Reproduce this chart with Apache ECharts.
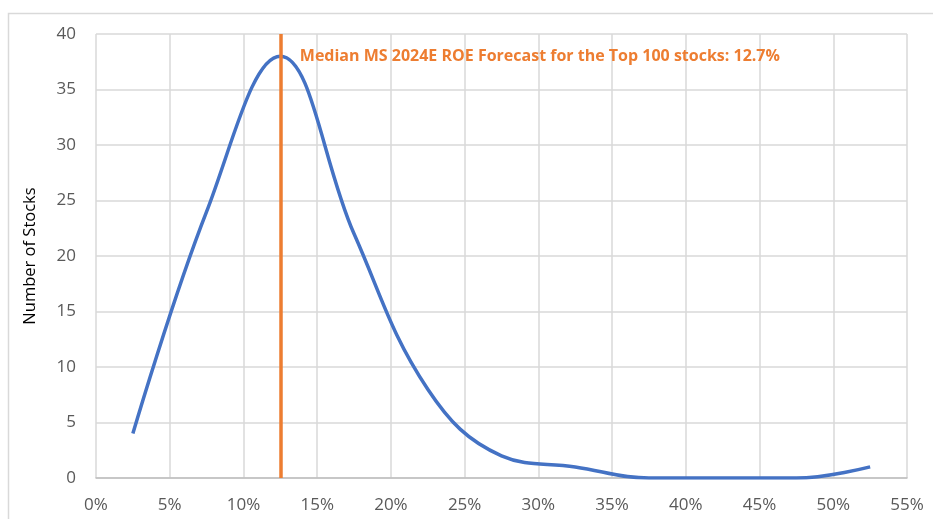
<!DOCTYPE html>
<html>
<head>
<meta charset="utf-8">
<script src="https://cdn.jsdelivr.net/npm/echarts@6/dist/echarts.min.js"></script>
<style>
  html, body { margin: 0; padding: 0; background: #fff; }
  #chart { width: 933px; height: 519px; }
</style>
</head>
<body>
<div id="chart"></div>
<script>
// ROE bucket midpoints (%) and number of stocks in each bucket
const roeBuckets = [2.5, 7.5, 12.5, 17.5, 22.5, 27.5, 32.5, 37.5, 42.5, 47.5, 52.5];
const stockCounts = [4, 24, 38, 22, 8, 2, 1, 0, 0, 0, 1];
const medianRoe = 12.5;
const medianLabel = "Median MS 2024E ROE Forecast for the Top 100 stocks: 12.7%";

const chartDom = document.getElementById("chart");
const myChart = echarts.init(chartDom);

const lineData = roeBuckets.map((x, i) => [x, stockCounts[i]]);

const option = {
  animation: false,
  textStyle: { fontFamily: "Open Sans, sans-serif" },
  grid: {
    left: 96,
    right: 26,
    top: 34,
    bottom: 41,
  },
  graphic: [
    {
      type: "rect",
      shape: { x: 8.5, y: 13.5, width: 1000, height: 600 },
      style: { fill: "none", stroke: "#d9d9d9", lineWidth: 1.5 },
      silent: true,
    },
  ],
  xAxis: {
    type: "value",
    min: 0,
    max: 55,
    interval: 5,
    axisLabel: {
      formatter: "{value}%",
      color: "#595959",
      fontSize: 17,
      margin: 19,
    },
    axisLine: { show: true, lineStyle: { color: "#bfbfbf", width: 1.5 } },
    axisTick: { show: false },
    splitLine: { show: true, lineStyle: { color: "#d9d9d9", width: 1.5 } },
  },
  yAxis: {
    type: "value",
    min: 0,
    max: 40,
    interval: 5,
    name: "Number of Stocks",
    nameLocation: "middle",
    nameGap: 57,
    nameTextStyle: { color: "#000", fontSize: 16.5 },
    axisLabel: {
      color: "#595959",
      fontSize: 17,
      margin: 20,
    },
    axisLine: { show: false },
    axisTick: { show: false },
    splitLine: { show: true, lineStyle: { color: "#d9d9d9", width: 1.5 } },
  },
  series: [
    {
      type: "line",
      data: lineData,
      smooth: 0.4,
      symbol: "none",
      lineStyle: { color: "#4472c4", width: 3.5 },
      markLine: {
        silent: true,
        symbol: ["none", "none"],
        label: { show: false },
        lineStyle: { color: "#ed7d31", width: 3.5, type: "solid" },
        data: [{ xAxis: medianRoe }],
      },
      markPoint: {
        silent: true,
        symbol: "circle",
        symbolSize: 1,
        itemStyle: { color: "rgba(0,0,0,0)" },
        label: {
          show: true,
          position: "right",
          distance: 19,
          formatter: medianLabel,
          color: "#ed7d31",
          fontWeight: "bold",
          fontSize: 16,
        },
        data: [{ coord: [medianRoe, 38] }],
      },
    },
  ],
};

myChart.setOption(option);

window.addEventListener("resize", () => {
  myChart.resize();
});
</script>
</body>
</html>
